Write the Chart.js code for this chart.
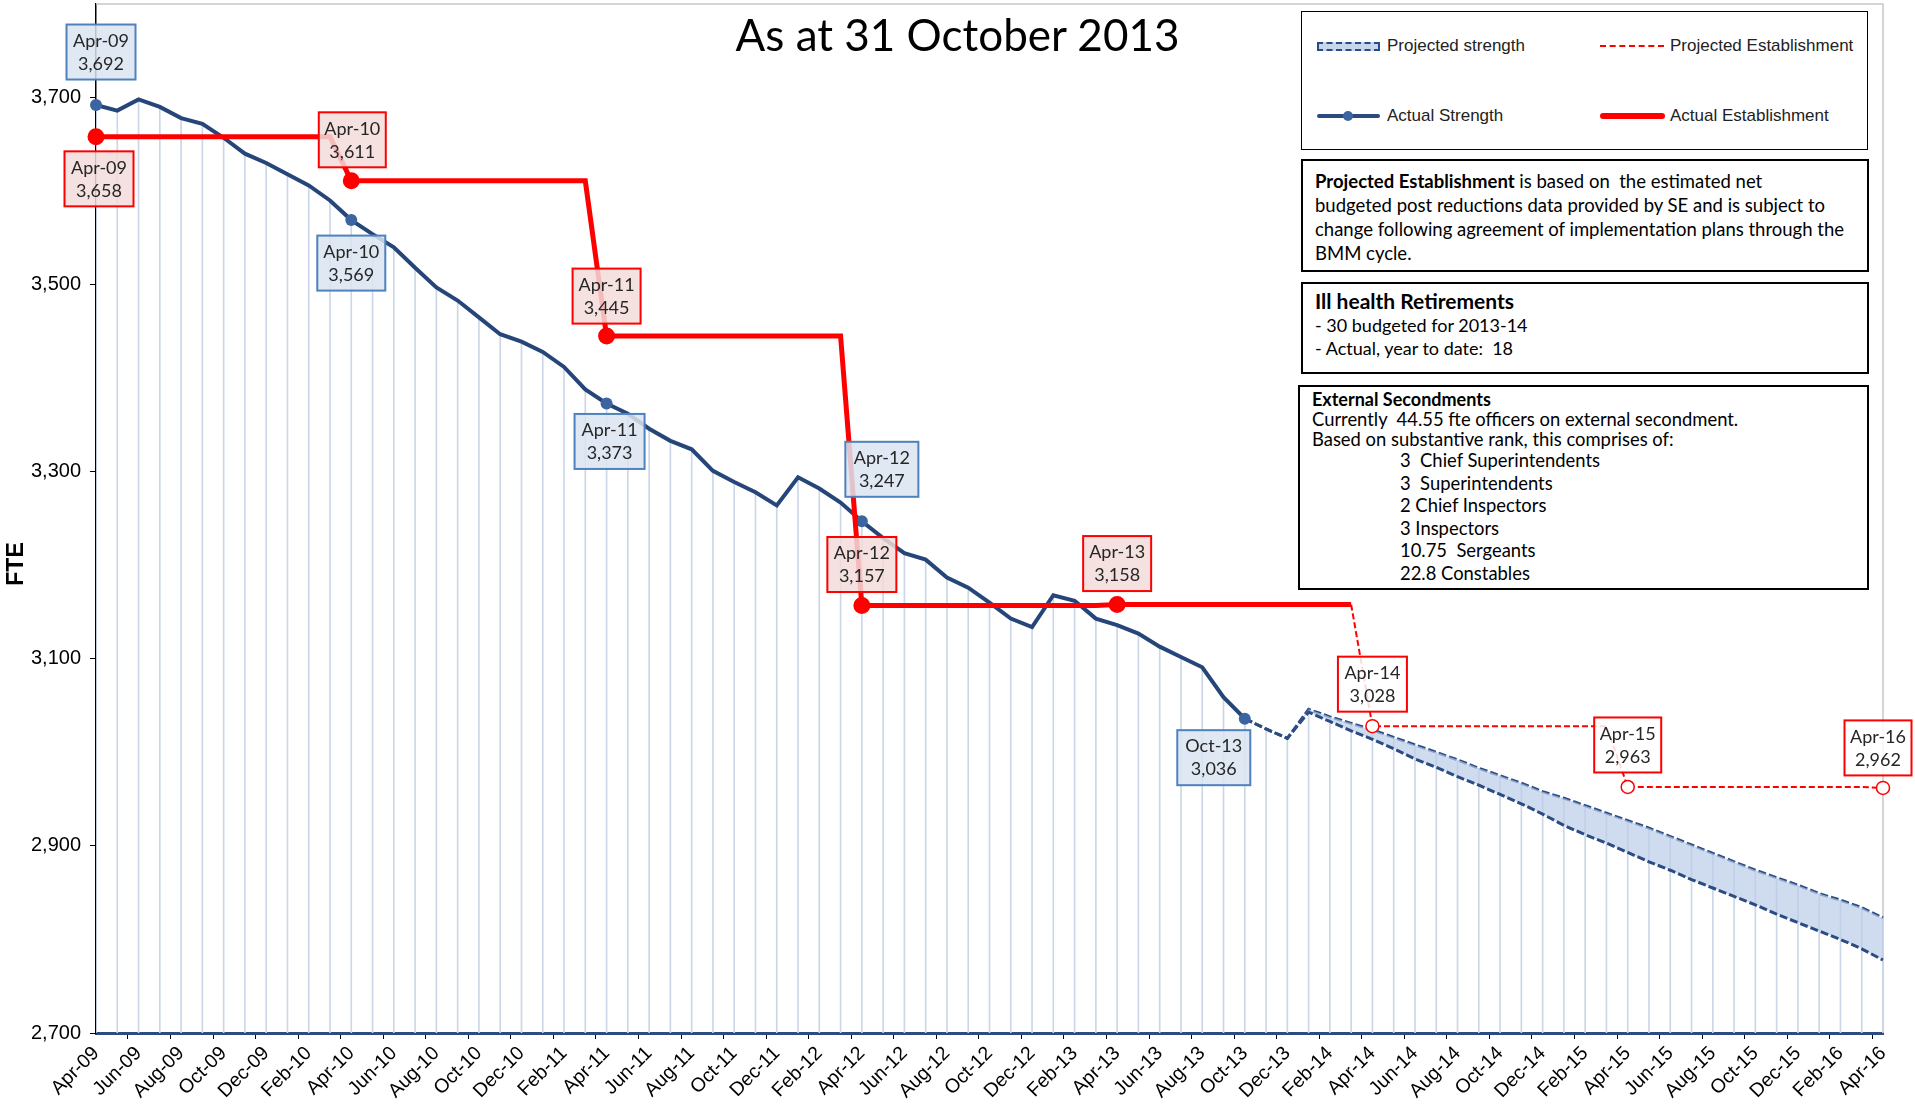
<!DOCTYPE html>
<html>
<head>
<meta charset="utf-8">
<script src="https://cdn.jsdelivr.net/npm/chart.js@4.4.0/dist/chart.umd.min.js"></script>
<style>
  html, body { margin: 0; padding: 0; background: #fff; }
  #wrap { position: relative; width: 1915px; height: 1105px; overflow: hidden; }
  #chart { position: absolute; left: 0; top: 0; }
  .title { position: absolute; left: 0; top: 8px; width: 1915px; text-align: center;
           font-family: Lato, sans-serif; font-size: 44px; line-height: 52px; color: #000; }
  .legend { position: absolute; left: 1301px; top: 11px; width: 567px; height: 139px; box-sizing: border-box;
            border: 1px solid #000; background: #fff; font-family: 'Liberation Sans', Arial, sans-serif;
            font-size: 17px; color: #222; }
  .item { position: absolute; display: flex; align-items: center; height: 20px; }
  .item span.txt { margin-left: 7px; }
  .ico { position: relative; width: 63px; height: 20px; }
  .ico-proj { position: absolute; left: 0; top: 6px; width: 63px; height: 9px; box-sizing: border-box;
              border: 2px dashed #2b4c82; background: #c6d6ec; }
  .ico-pest { position: absolute; left: 0; top: 9px; width: 64px; border-top: 2px dashed #ff0000; }
  .ico-act { position: absolute; left: 0; top: 8px; width: 63px; height: 4px; background: #2a4a80; border-radius: 2px; }
  .ico-dot { position: absolute; left: 26px; top: 5px; width: 10px; height: 10px; border-radius: 5px; background: #3b64a0; }
  .ico-aest { position: absolute; left: 0; top: 7px; width: 65px; height: 6px; background: #ff0000; border-radius: 3px; }
  .note { position: absolute; box-sizing: border-box; background: #fff; border: 2.5px solid #000;
          font-family: Lato, sans-serif; color: #000; }
</style>
</head>
<body>
<div id="wrap">
  <canvas id="chart" width="1915" height="1105"></canvas>
  <div class="title">As at 31 October 2013</div>

  <div class="legend">
    <div class="item" style="left:15px; top:24px;"><div class="ico"><div class="ico-proj"></div></div><span class="txt">Projected strength</span></div>
    <div class="item" style="left:298px; top:24px;"><div class="ico"><div class="ico-pest"></div></div><span class="txt">Projected Establishment</span></div>
    <div class="item" style="left:15px; top:94px;"><div class="ico"><div class="ico-act"></div><div class="ico-dot"></div></div><span class="txt">Actual Strength</span></div>
    <div class="item" style="left:298px; top:94px;"><div class="ico"><div class="ico-aest"></div></div><span class="txt">Actual Establishment</span></div>
  </div>

  <div class="note" id="note1" style="left:1301px; top:159px; width:568px; height:113px; padding:8px 8px 0 12px; line-height:24px; font-size:18.5px;"></div>
  <div class="note" id="note2" style="left:1301px; top:282px; width:568px; height:92px; padding:5px 8px 0 12px; line-height:23px; font-size:18px;"></div>
  <div class="note" id="note3" style="left:1298px; top:385px; width:571px; height:205px; padding:2px 8px 0 12px; line-height:20px; font-size:18.4px;"></div>
</div>

<script>
// months Apr-09 .. Apr-16
const monthNames = ['Jan', 'Feb', 'Mar', 'Apr', 'May', 'Jun', 'Jul', 'Aug', 'Sep', 'Oct', 'Nov', 'Dec']
const months = []
for (let k = 0; k < 85; k++) {
  const m = (3 + k) % 12
  const y = 9 + Math.floor((3 + k) / 12)
  months.push(monthNames[m] + '-' + String(y).padStart(2, '0'))
}

const yTicks = [2700, 2900, 3100, 3300, 3500, 3700]

// Actual strength, Apr-09 .. Oct-13
const strengthActual = [
  3692, 3686, 3698, 3690, 3678, 3672, 3657, 3640, 3630, 3618, 3606, 3590,
  3569, 3554, 3540, 3518, 3497, 3483, 3465, 3447, 3439, 3428, 3412, 3388,
  3373, 3362, 3346, 3333, 3324, 3301, 3289, 3278, 3264, 3294, 3282, 3267,
  3247, 3229, 3213, 3206, 3187, 3176, 3160, 3143, 3134, 3168, 3162, 3143,
  3136, 3127, 3113, 3102, 3091, 3059, 3036
]

// Projected strength band, Oct-13 .. Apr-16
const projStart = 54
const strengthProjHigh = [
  3036, 3025, 3015, 3046, 3038, 3031, 3024, 3016, 3008, 3000, 2992, 2983,
  2975, 2967, 2958, 2951, 2943, 2935, 2927, 2919, 2910, 2901, 2892, 2883,
  2874, 2866, 2858, 2849, 2842, 2834, 2823
]
const strengthProjLow = [
  3036, 3025, 3015, 3043, 3033, 3023, 3014, 3004, 2993, 2984, 2974, 2965,
  2955, 2945, 2934, 2922, 2912, 2903, 2893, 2883, 2874, 2864, 2855, 2846,
  2837, 2827, 2818, 2809, 2800, 2790, 2778
]

// Actual establishment, Apr-09 .. Mar-14
const estActual = [
  3658, 3658, 3658, 3658, 3658, 3658, 3658, 3658, 3658, 3658, 3658, 3658,
  3611, 3611, 3611, 3611, 3611, 3611, 3611, 3611, 3611, 3611, 3611, 3611,
  3445, 3445, 3445, 3445, 3445, 3445, 3445, 3445, 3445, 3445, 3445, 3445,
  3157, 3157, 3157, 3157, 3157, 3157, 3157, 3157, 3157, 3157, 3157, 3157,
  3158, 3158, 3158, 3158, 3158, 3158, 3158, 3158, 3158, 3158, 3158, 3158
]

// Projected establishment, Mar-14 .. Apr-16
const estProjStart = 59
const estProjected = [
  3158,
  3028, 3028, 3028, 3028, 3028, 3028, 3028, 3028, 3028, 3028, 3028, 3028,
  2963, 2963, 2963, 2963, 2963, 2963, 2963, 2963, 2963, 2963, 2963, 2963,
  2962
]

const note1 = ['<b>Projected Establishment</b> is based on&nbsp; the estimated net',
  'budgeted post reductions data provided by SE and is subject to',
  'change following agreement of implementation plans through the',
  'BMM cycle.']
const note2 = ['<b style="font-size:21px">Ill health Retirements</b>', '- 30 budgeted for 2013-14', '- Actual, year to date:&nbsp; 18']
const note3Head = ['<b style="font-size:18px">External Secondments</b>', 'Currently&nbsp; 44.55 fte officers on external secondment.',
  'Based on substantive rank, this comprises of:']
const note3Ranks = ['3&nbsp; Chief Superintendents', '3&nbsp; Superintendents', '2 Chief Inspectors',
  '3 Inspectors', '10.75&nbsp; Sergeants', '22.8 Constables']

document.getElementById('note1').innerHTML = note1.join('<br>')
document.getElementById('note2').innerHTML = note2.join('<br>')
document.getElementById('note3').innerHTML = note3Head.join('<br>') +
  '<div style="margin-left:88px; line-height:22.6px;">' + note3Ranks.join('<br>') + '</div>'

function pad(arr, start) {
  const out = new Array(months.length).fill(null)
  arr.forEach((v, k) => { out[start + k] = v })
  return out
}

const actualFull = pad(strengthActual, 0)
const highFull = pad(strengthProjHigh, projStart)
const lowFull = pad(strengthProjLow, projStart)
const estFull = pad(estActual, 0)
const estProjFull = pad(estProjected, estProjStart)
// drop lines go up to the highest strength value of the month
const dropLines = months.map((m, i) => {
  const v = i <= projStart ? actualFull[i] : highFull[i]
  return v == null ? null : [2700, v]
})

const strengthMarks = [0, 12, 24, 36, 54]
const estMarks = [0, 12, 24, 36, 48]
const estProjMarks = [60, 72, 84]

// callout boxes: dataset index, point index, offset from the point
const callouts = [
  { ds: 3, i: 0, dx: 5, dy: -53, w: 69, kind: 'blue' },
  { ds: 4, i: 0, dx: 3, dy: 42, w: 69, kind: 'red' },
  { ds: 4, i: 12, dx: 1, dy: -41, w: 67, kind: 'red' },
  { ds: 3, i: 12, dx: 0, dy: 43, w: 68, kind: 'blue' },
  { ds: 4, i: 24, dx: 0, dy: -40, w: 68, kind: 'red' },
  { ds: 3, i: 24, dx: 3, dy: 38, w: 70, kind: 'blue' },
  { ds: 3, i: 36, dx: 20, dy: -52, w: 73, kind: 'blue' },
  { ds: 4, i: 36, dx: 0, dy: -41, w: 69, kind: 'red' },
  { ds: 4, i: 48, dx: 0, dy: -41, w: 68, kind: 'red' },
  { ds: 3, i: 54, dx: -31, dy: 39, w: 73, kind: 'blue' },
  { ds: 5, i: 60, dx: 0, dy: -42, w: 69, kind: 'open' },
  { ds: 5, i: 72, dx: 0, dy: -42, w: 67, kind: 'open' },
  { ds: 5, i: 84, dx: -5, dy: -40, w: 67, kind: 'open' }
]
const boxStyles = {
  blue: { fill: 'rgba(219,229,241,0.85)', stroke: '#4f81bd' },
  red: { fill: 'rgba(242,220,219,0.85)', stroke: '#ff0000' },
  open: { fill: 'rgba(255,255,255,0.85)', stroke: '#ff0000' }
}

const extras = {
  id: 'extras',
  beforeDatasetsDraw(chart) {
    const { ctx, chartArea: a } = chart
    ctx.save()
    ctx.strokeStyle = '#c8c8c8'
    ctx.lineWidth = 1.5
    ctx.beginPath()
    ctx.moveTo(a.left, a.top)
    ctx.lineTo(a.right, a.top)
    ctx.lineTo(a.right, a.bottom)
    ctx.stroke()
    // FTE axis title
    ctx.translate(17, 564)
    ctx.rotate(-Math.PI / 2)
    ctx.font = 'bold 23px "Liberation Sans", Arial'
    ctx.fillStyle = '#000'
    ctx.textAlign = 'center'
    ctx.textBaseline = 'middle'
    ctx.fillText('FTE', 0, 0)
    ctx.restore()
  },
  afterDatasetsDraw(chart) {
    const ctx = chart.ctx
    ctx.save()
    ctx.font = '18px Lato'
    ctx.textAlign = 'center'
    ctx.textBaseline = 'middle'
    callouts.forEach(c => {
      const pt = chart.getDatasetMeta(c.ds).data[c.i]
      const val = chart.data.datasets[c.ds].data[c.i]
      const st = boxStyles[c.kind]
      const w = c.w, h = 55
      const x = pt.x + c.dx - w / 2, y = pt.y + c.dy - h / 2
      ctx.fillStyle = st.fill
      ctx.fillRect(x, y, w, h)
      ctx.lineWidth = 2
      ctx.strokeStyle = st.stroke
      ctx.strokeRect(x, y, w, h)
      ctx.fillStyle = '#262626'
      ctx.fillText(months[c.i], pt.x + c.dx, pt.y + c.dy - 11)
      ctx.fillText(val.toLocaleString('en-US'), pt.x + c.dx, pt.y + c.dy + 12)
    })
    ctx.restore()
  }
}

const markRadius = (marks, r) => c => marks.includes(c.dataIndex) ? r : 0

new Chart(document.getElementById('chart'), {
  type: 'line',
  data: {
    labels: months,
    datasets: [
      {
        type: 'bar',
        data: dropLines,
        backgroundColor: '#cbd7e8',
        barThickness: 1,
        order: 10
      },
      {
        data: highFull,
        borderColor: '#2b4c82',
        borderWidth: 3,
        borderDash: [8, 3],
        pointRadius: 0,
        fill: false,
        clip: false,
        order: 6
      },
      {
        data: lowFull,
        borderColor: '#2b4c82',
        borderWidth: 3,
        borderDash: [8, 3],
        pointRadius: 0,
        fill: '-1',
        backgroundColor: 'rgba(186,205,232,0.7)',
        clip: false,
        order: 5
      },
      {
        data: actualFull,
        borderColor: '#264679',
        borderWidth: 4,
        pointRadius: markRadius(strengthMarks, 6),
        pointBackgroundColor: '#3b64a0',
        pointBorderColor: '#3b64a0',
        pointBorderWidth: 0,
        clip: false,
        order: 3
      },
      {
        data: estFull,
        borderColor: '#ff0000',
        borderWidth: 5,
        pointRadius: markRadius(estMarks, 6),
        pointBackgroundColor: '#ff0000',
        pointBorderColor: '#ff0000',
        clip: false,
        order: 2
      },
      {
        data: estProjFull,
        borderColor: '#ff0000',
        borderWidth: 2,
        borderDash: [6, 3],
        pointRadius: markRadius(estProjMarks, 6.5),
        pointBackgroundColor: '#ffffff',
        pointBorderColor: '#ff0000',
        pointBorderWidth: 1.5,
        clip: false,
        order: 1
      }
    ]
  },
  options: {
    responsive: false,
    animation: false,
    layout: { autoPadding: false, padding: { top: 4, right: 32, left: 0, bottom: 0 } },
    plugins: { legend: { display: false }, tooltip: { enabled: false } },
    elements: { line: { tension: 0 } },
    scales: {
      x: {
        offset: false,
        grid: {
          drawOnChartArea: false,
          tickLength: 6,
          tickColor: c => c.index % 2 === 0 ? '#000' : 'rgba(0,0,0,0)'
        },
        border: { color: '#2b4c82', width: 3, dash: [6, 2] },
        ticks: {
          autoSkip: false,
          minRotation: 45,
          maxRotation: 45,
          color: '#000',
          font: { family: 'Liberation Sans', size: 19.5 },
          callback: function (v, i) { return i % 2 === 0 ? this.getLabelForValue(v) : '' }
        },
        afterFit: s => { s.height = 72 }
      },
      y: {
        min: 2700,
        max: 3800,
        grid: { drawOnChartArea: false, tickLength: 6, tickColor: '#000' },
        border: { color: '#000', width: 1.5 },
        ticks: {
          padding: 9,
          color: '#000',
          font: { family: 'Liberation Sans', size: 20 },
          callback: v => v.toLocaleString('en-US')
        },
        afterBuildTicks: s => { s.ticks = yTicks.map(v => ({ value: v })) },
        afterFit: s => { s.width = 96; s.paddingTop = 0; s.paddingBottom = 0 }
      }
    }
  },
  plugins: [extras]
})
</script>
</body>
</html>
